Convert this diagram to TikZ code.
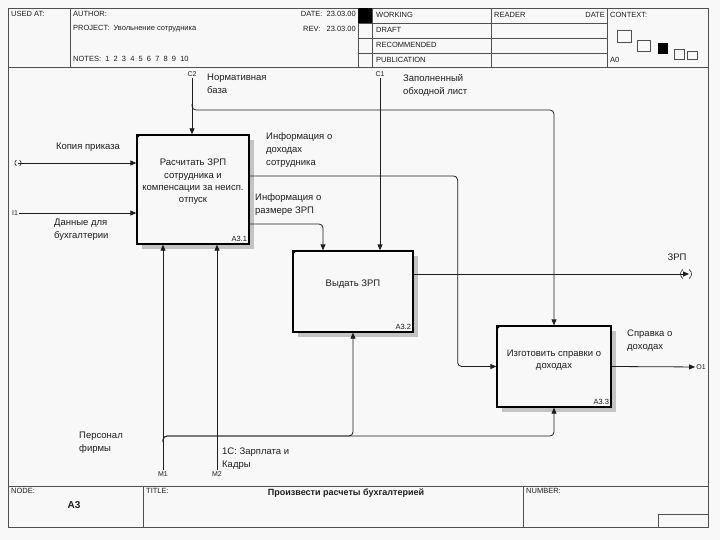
\documentclass[tikz,border=0pt]{standalone}
\usepackage{fontspec}
\setmainfont{Liberation Sans}
\usetikzlibrary{arrows.meta,positioning,calc,shadows}
\definecolor{IDink}{RGB}{30,30,30}
\definecolor{IDframe}{RGB}{80,80,80}
\definecolor{IDshade}{RGB}{195,195,195}
\definecolor{IDpaper}{RGB}{248,248,248}
\tikzset{
  func/.style={draw=black,line width=1.3pt,fill=IDpaper,inner sep=0pt,
               drop shadow={shadow xshift=5pt,shadow yshift=-5pt,fill=IDshade,opacity=1}},
  functext/.style={text=IDink,align=center,font=\fontsize{9.5}{12.3}\selectfont,inner sep=0pt},
  boxno/.style={text=IDink,font=\fontsize{7.5}{9}\selectfont,inner sep=2.5pt,anchor=south east},
  lbl/.style={text=IDink,align=left,font=\fontsize{9.5}{13}\selectfont,inner sep=0pt,anchor=north west},
  icom/.style={text=IDink,font=\fontsize{7}{8}\selectfont,inner sep=1pt},
  hdr/.style={text=IDink,font=\fontsize{7.5}{9}\selectfont,inner sep=0pt,anchor=west},
  ar/.style={-{Triangle[length=6pt,width=5pt]},line width=0.8pt,draw=IDink,rounded corners=4pt},
  ln/.style={line width=0.8pt,draw=IDink},
  frm/.style={line width=0.9pt,draw=IDframe}
}
\begin{document}
\begin{tikzpicture}[x=1pt,y=-1pt]
  \fill[IDpaper] (0,0) rectangle (720,540);
  \useasboundingbox (0,0) rectangle (720,540);
  \draw[frm] (8,8) rectangle (708,527);
  \draw[frm] (8,67) -- (708,67);
  \draw[frm] (8,486) -- (708,486);
  \draw[frm] (70,8) -- (70,67);
  \foreach \x in {358,372,491,607} \draw[frm] (\x,8) -- (\x,67);
  \foreach \y in {23,38,53} \draw[frm] (358,\y) -- (607,\y);
  \fill[black] (358,8) rectangle (372,23);
  \draw[frm,line width=0.6pt] (617,30) rectangle (631,42);
  \draw[frm,line width=0.6pt] (637,40) rectangle (650,51);
  \fill[black] (658,43) rectangle (668,54);
  \draw[frm,line width=0.6pt] (674,49) rectangle (684,59);
  \draw[frm,line width=0.6pt] (687,51) rectangle (697,59);
  \draw[frm] (143,486) -- (143,527);
  \draw[frm] (523,486) -- (523,527);
  \draw[frm] (658,527) -- (658,514) -- (708,514);
  \node[hdr] (usedat) at (11,14) {USED AT:};
  \node[hdr] (author) at (73,14) {AUTHOR:};
  \node[hdr,anchor=east] (date) at (356,14) {DATE:\ \ 23.03.00};
  \node[hdr] (project) at (73,29) {PROJECT:\ \ Увольнение сотрудника};
  \node[hdr,anchor=east] (rev) at (356,29) {REV:\ \ \ 23.03.00};
  \node[hdr] (notes) at (73,59) {NOTES:\ \ 1\ \ 2\ \ 3\ \ 4\ \ 5\ \ 6\ \ 7\ \ 8\ \ 9\ \ 10};
  \node[hdr] (working) at (376,15) {WORKING};
  \node[hdr] (draft) at (376,30) {DRAFT};
  \node[hdr] (recom) at (376,45) {RECOMMENDED};
  \node[hdr] (public) at (376,60) {PUBLICATION};
  \node[hdr] (reader) at (494,15) {READER};
  \node[hdr,anchor=east] (rdate) at (605,15) {DATE};
  \node[hdr] (context) at (610,15) {CONTEXT:};
  \node[hdr] (ctxnode) at (610,60) {A0};
  \node[hdr] (nodelab) at (11,491) {NODE:};
  \node[text=IDink,font=\fontsize{10}{12}\selectfont\bfseries] (nodeno) at (74,505) {A3};
  \node[hdr] (titlelab) at (146,491) {TITLE:};
  \node[text=IDink,font=\fontsize{9}{11}\selectfont\bfseries] (title) at (346,493) {Произвести расчеты бухгалтерией};
  \node[hdr] (numlab) at (526,491) {NUMBER:};

  \node[func,minimum width=112pt,minimum height=109pt] (a31) at (193,189.5) {};
  \node[func,minimum width=120pt,minimum height=81pt] (a32) at (353,291.5) {};
  \node[func,minimum width=114pt,minimum height=81pt] (a33) at (554,366.5) {};
  \foreach \b in {a31,a32,a33}
    \fill[black] (\b.north west) -- ++(5,0) -- ++(-5,5) -- cycle;
  \node[functext] (a31t) at (193,182) {Расчитать ЗРП\\сотрудника и\\компенсации за неисп.\\отпуск};
  \node[functext] (a32t) at (353,284) {Выдать ЗРП};
  \node[functext] (a33t) at (554,360) {Изготовить справки о\\доходах};
  \node[boxno] (a31n) at (a31.south east) {A3.1};
  \node[boxno] (a32n) at (a32.south east) {A3.2};
  \node[boxno] (a33n) at (a33.south east) {A3.3};

  \node[icom] (c2) at (192,74) {C2};
  \node[icom] (c1) at (380,74) {C1};
  \node[icom] (i1) at (15,213) {I1};
  \node[icom] (o1) at (701,367) {O1};
  \node[icom] (m1) at (163,474) {M1};
  \node[icom] (m2) at (217,474) {M2};
  \coordinate (i2) at (18,163);
  \coordinate (zrp) at (689,274);
  \coordinate (zrpc) at (686,274);
  \coordinate (c2j) at (192,110);
  \coordinate (m1j) at (163,436);

  \draw[ar] (c2) -- (c2 |- a31.north);
  \draw[ar] ([yshift=6pt]c2j) -- (c2j) -| (a33.north);
  \draw[ar] (c1) -- (c1 |- a32.north);
  \draw[ar] (i2) -- (i2 -| a31.west);
  \draw[ln,line width=0.6pt] (i2) ++(120:3.2) arc (120:240:3.2);
  \draw[ln,line width=0.6pt] (i2) ++(-60:3.2) arc (-60:60:3.2);
  \draw[ar] (i1) -- (i1 -| a31.west);
  \draw[ar] ([yshift=13.5pt]a31.east) -- ++(208,0) |- (a33.west);
  \draw[ar] ([yshift=-34.5pt]a31.east) -| ([xshift=-30pt]a32.north);
  \draw[ar] ([yshift=17.5pt]a32.east) -- (zrp);
  \draw[ln,line width=0.6pt] (zrpc) ++(125:5.5) arc (125:235:5.5);
  \draw[ln,line width=0.6pt] (zrpc) ++(-55:5.5) arc (-55:55:5.5);
  \draw[ar] (a33.east) -- (o1);
  \draw[ar] (m1) -- (m1 |- a31.south);
  \draw[ar] (m2) -- (m2 |- a31.south);
  \draw[ar] ([yshift=-6pt]m1j) -- (m1j) -| (a32.south);
  \draw[ar] ([yshift=-6pt]m1j) -- (m1j) -| (a33.south);

  \node[lbl] (normbase) at (207,74) {Нормативная\\база};
  \node[lbl] (obhod) at (403,74) {Заполненный\\обходной лист};
  \node[lbl,anchor=center] (kopia) at (88,147) {Копия приказа};
  \node[lbl] (dannye) at (54,219) {Данные для\\бухгалтерии};
  \node[lbl] (infodoh) at (266,132) {Информация о\\доходах\\сотрудника};
  \node[lbl] (infozrp) at (255,193) {Информация о\\размере ЗРП};
  \node[lbl,anchor=center] (zrplab) at (677,257) {ЗРП};
  \node[lbl] (spravka) at (627,330) {Справка о\\доходах};
  \node[lbl] (personal) at (79,432) {Персонал\\фирмы};
  \node[lbl] (onec) at (222,448) {1С: Зарплата и\\Кадры};
\end{tikzpicture}
\end{document}
